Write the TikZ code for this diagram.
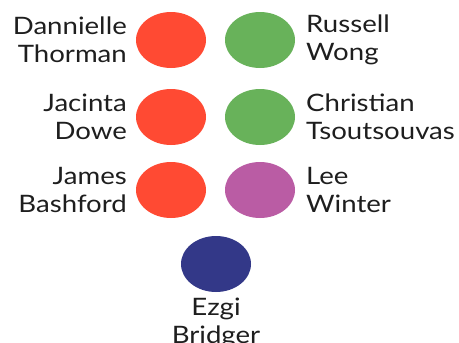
\documentclass[tikz,border=0pt]{standalone}
\usepackage{fontspec}
\setmainfont[FakeStretch=1.15]{Lato}
\usetikzlibrary{shapes.geometric}

\definecolor{partyred}{RGB}{255,74,51}
\definecolor{partygreen}{RGB}{104,178,90}
\definecolor{partypurple}{RGB}{186,92,164}
\definecolor{partynavy}{RGB}{51,56,136}
\definecolor{nametext}{RGB}{30,30,30}

\begin{document}
\begin{tikzpicture}[x=1pt, y=-1pt,
    seat/.style={ellipse, minimum width=70pt, minimum height=56pt, inner sep=0pt},
    candidate/.style={inner sep=0pt, text=nametext, font=\fontsize{24}{28}\selectfont},
    lname/.style={candidate, anchor=east, align=right},
    rname/.style={candidate, anchor=west, align=left},
    bname/.style={candidate, anchor=north, align=center}]
  \useasboundingbox (0,0) rectangle (459,343);
  % seats
  \node[seat, fill=partyred] (s1) at (171, 40) {};
  \node[seat, fill=partyred] (s2) at (171, 117) {};
  \node[seat, fill=partyred] (s3) at (171, 190) {};
  \node[seat, fill=partygreen] (s4) at (260, 40) {};
  \node[seat, fill=partygreen] (s5) at (260, 117) {};
  \node[seat, fill=partypurple] (s6) at (260, 190) {};
  \node[seat, fill=partynavy] (s7) at (216, 264) {};
  % names
  \node[lname] (n1) at (127, 40) {Dannielle\\Thorman};
  \node[lname] (n2) at (127, 117) {Jacinta\\Dowe};
  \node[lname] (n3) at (127, 190) {James\\Bashford};
  \node[rname] (n4) at (306, 40) {Russell\\Wong};
  \node[rname] (n5) at (306, 117) {Christian\\Tsoutsouvas};
  \node[rname] (n6) at (306, 190) {Lee\\Winter};
  \node[bname] (n7) at (216, 298) {Ezgi\\Bridger};
\end{tikzpicture}
\end{document}
